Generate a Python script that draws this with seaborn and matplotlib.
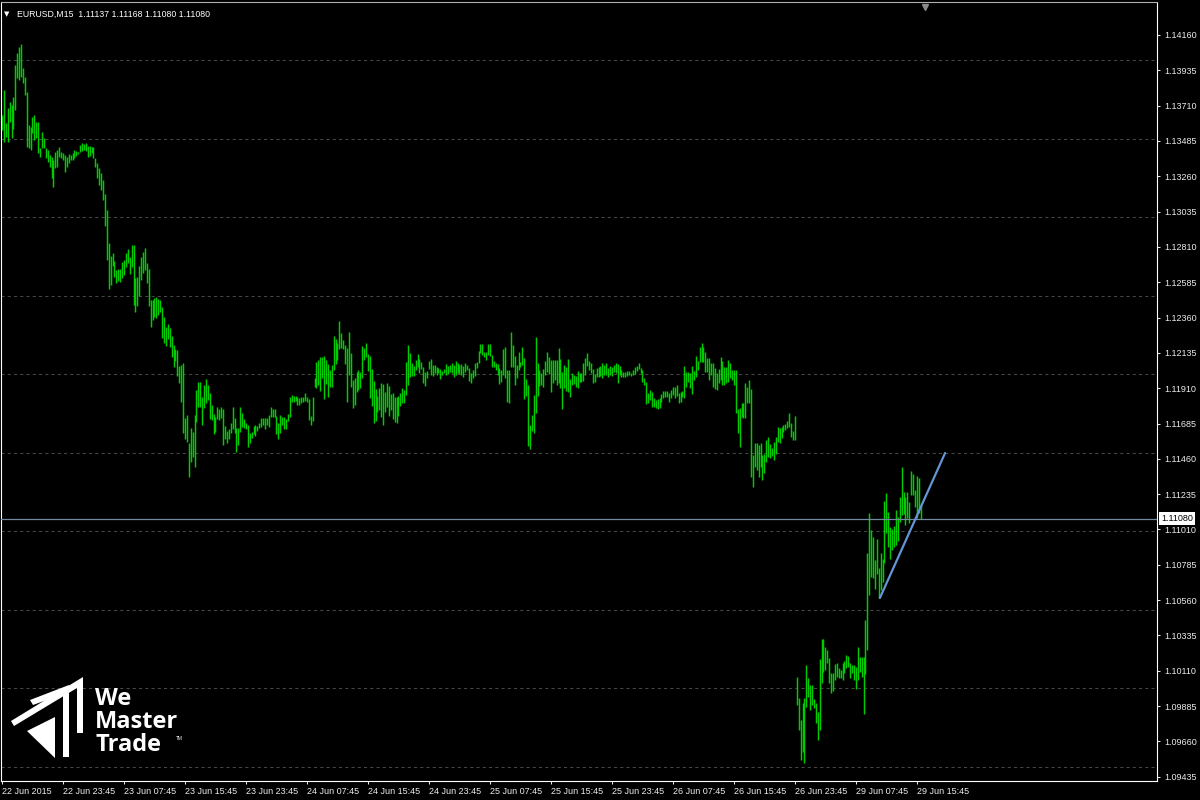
import numpy as np
import pandas as pd
import seaborn as sns
import matplotlib.pyplot as plt
from matplotlib.patches import Polygon
from matplotlib.transforms import Affine2D

# EURUSD M15 bars (high / low)
# 22 Jun 15:45 .. 26 Jun 23:45
week_high = [
    1.13650, 1.13810, 1.13599, 1.13695, 1.13733, 1.13714, 1.13765, 1.13969, 1.14045, 1.14084,
    1.14103, 1.13950, 1.13893, 1.13797, 1.13587, 1.13574, 1.13638, 1.13650, 1.13606, 1.13606,
    1.13440, 1.13542, 1.13504, 1.13440, 1.13428, 1.13396, 1.13383, 1.13364, 1.13415, 1.13428,
    1.13447, 1.13415, 1.13408, 1.13396, 1.13383, 1.13402, 1.13396, 1.13408, 1.13428, 1.13421,
    1.13415, 1.13459, 1.13472, 1.13466, 1.13472, 1.13453, 1.13453, 1.13447, 1.13447, 1.13377,
    1.13345, 1.13313, 1.13281, 1.13236, 1.13147, 1.13045, 1.12835, 1.12752, 1.12771, 1.12720,
    1.12663, 1.12669, 1.12669, 1.12714, 1.12727, 1.12771, 1.12797, 1.12746, 1.12822, 1.12822,
    1.12612, 1.12619, 1.12689, 1.12746, 1.12778, 1.12803, 1.12708, 1.12669, 1.12472, 1.12472,
    1.12485, 1.12491, 1.12478, 1.12472, 1.12427, 1.12364, 1.12300, 1.12319, 1.12294, 1.12243,
    1.12185, 1.12160, 1.12154, 1.12052, 1.12058, 1.12071, 1.11720, 1.11739, 1.11561, 1.11657,
    1.11631, 1.11739, 1.11899, 1.11950, 1.11950, 1.11854, 1.11931, 1.11969, 1.11931, 1.11880,
    1.11803, 1.11746, 1.11727, 1.11790, 1.11778, 1.11790, 1.11778, 1.11669, 1.11638, 1.11650,
    1.11688, 1.11790, 1.11720, 1.11657, 1.11657, 1.11790, 1.11752, 1.11714, 1.11688, 1.11676,
    1.11625, 1.11631, 1.11669, 1.11676, 1.11669, 1.11688, 1.11720, 1.11720, 1.11720, 1.11720,
    1.11739, 1.11790, 1.11778, 1.11778, 1.11733, 1.11688, 1.11739, 1.11727, 1.11727, 1.11714,
    1.11746, 1.11854, 1.11867, 1.11860, 1.11860, 1.11854, 1.11848, 1.11854, 1.11854, 1.11880,
    1.11854, 1.11841, 1.11733, 1.11854, 1.11975, 1.12077, 1.12090, 1.12109, 1.12109, 1.12115,
    1.12090, 1.12064, 1.12026, 1.12058, 1.12243, 1.12224, 1.12198, 1.12338, 1.12262, 1.12217,
    1.12185, 1.12166, 1.12268, 1.12134, 1.11962, 1.11975, 1.12013, 1.12026, 1.12013, 1.12179,
    1.12166, 1.12198, 1.12128, 1.12115, 1.12032, 1.11956, 1.11905, 1.11860, 1.11911, 1.11943,
    1.11937, 1.11886, 1.11943, 1.11924, 1.11873, 1.11880, 1.11854, 1.11854, 1.11860, 1.11880,
    1.11911, 1.11899, 1.12077, 1.12185, 1.12134, 1.12071, 1.12052, 1.12090, 1.12128, 1.12096,
    1.12077, 1.12045, 1.12013, 1.12020, 1.12083, 1.12096, 1.12058, 1.12058, 1.12045, 1.12039,
    1.12032, 1.12020, 1.12032, 1.12064, 1.12052, 1.12058, 1.12071, 1.12058, 1.12083, 1.12071,
    1.12058, 1.12064, 1.12052, 1.12071, 1.12058, 1.12039, 1.12007, 1.12026, 1.12071, 1.12077,
    1.12147, 1.12192, 1.12192, 1.12141, 1.12141, 1.12192, 1.12192, 1.12122, 1.12083, 1.12071,
    1.12064, 1.12039, 1.12026, 1.12160, 1.12173, 1.12026, 1.12026, 1.12268, 1.12185, 1.12115,
    1.12058, 1.12141, 1.12077, 1.12173, 1.12103, 1.11969, 1.11931, 1.11676, 1.11739, 1.11867,
    1.12236, 1.12071, 1.12026, 1.12007, 1.12032, 1.12083, 1.12141, 1.12109, 1.12090, 1.12090,
    1.12090, 1.12090, 1.12166, 1.12096, 1.12013, 1.12058, 1.12045, 1.12096, 1.11969, 1.12007,
    1.11994, 1.11988, 1.12020, 1.12007, 1.12007, 1.12071, 1.12103, 1.12134, 1.12083, 1.12071,
    1.12032, 1.12001, 1.12039, 1.12045, 1.12052, 1.12071, 1.12058, 1.12071, 1.12039, 1.12052,
    1.12045, 1.12058, 1.12071, 1.12064, 1.12052, 1.12026, 1.12013, 1.12013, 1.12020, 1.12020,
    1.12007, 1.12026, 1.12045, 1.12052, 1.12071, 1.12039, 1.12026, 1.11975, 1.11950, 1.11880,
    1.11899, 1.11886, 1.11848, 1.11835, 1.11841, 1.11848, 1.11873, 1.11892, 1.11892, 1.11892,
    1.11880, 1.11899, 1.11918, 1.11918, 1.11931, 1.11880, 1.11886, 1.11892, 1.12052, 1.12013,
    1.12013, 1.12007, 1.12052, 1.12020, 1.12115, 1.12083, 1.12173, 1.12198, 1.12173, 1.12141,
    1.12103, 1.12103, 1.12071, 1.12071, 1.12039, 1.12007, 1.12032, 1.12109, 1.12083, 1.12045,
    1.12045, 1.12090, 1.12071, 1.12026, 1.12026, 1.12026, 1.11778, 1.11784, 1.11816, 1.11816,
    1.11943, 1.11918, 1.11962, 1.11905, 1.11485, 1.11561, 1.11561, 1.11548, 1.11561, 1.11485,
    1.11491, 1.11580, 1.11599, 1.11555, 1.11529, 1.11567, 1.11599, 1.11663, 1.11657, 1.11663,
    1.11676, 1.11682, 1.11701, 1.11752, 1.11688, 1.11638, 1.11733,
]
week_low = [
    1.13555, 1.13478, 1.13510, 1.13478, 1.13606, 1.13504, 1.13561, 1.13682, 1.13886, 1.13873,
    1.13893, 1.13854, 1.13778, 1.13447, 1.13440, 1.13428, 1.13536, 1.13491, 1.13504, 1.13408,
    1.13383, 1.13440, 1.13440, 1.13377, 1.13351, 1.13319, 1.13249, 1.13192, 1.13313, 1.13319,
    1.13383, 1.13377, 1.13364, 1.13287, 1.13319, 1.13345, 1.13364, 1.13364, 1.13377, 1.13389,
    1.13402, 1.13415, 1.13421, 1.13428, 1.13421, 1.13383, 1.13389, 1.13408, 1.13377, 1.13319,
    1.13249, 1.13205, 1.13173, 1.13109, 1.12943, 1.12727, 1.12542, 1.12568, 1.12689, 1.12619,
    1.12580, 1.12593, 1.12587, 1.12612, 1.12631, 1.12682, 1.12708, 1.12638, 1.12682, 1.12440,
    1.12396, 1.12434, 1.12497, 1.12599, 1.12644, 1.12663, 1.12580, 1.12434, 1.12300, 1.12345,
    1.12364, 1.12357, 1.12377, 1.12396, 1.12230, 1.12198, 1.12179, 1.12224, 1.12173, 1.12109,
    1.12045, 1.12083, 1.11988, 1.11943, 1.11822, 1.11625, 1.11587, 1.11567, 1.11345, 1.11440,
    1.11472, 1.11408, 1.11695, 1.11790, 1.11790, 1.11676, 1.11784, 1.11816, 1.11835, 1.11714,
    1.11708, 1.11618, 1.11631, 1.11714, 1.11708, 1.11720, 1.11548, 1.11587, 1.11561, 1.11587,
    1.11625, 1.11650, 1.11625, 1.11504, 1.11548, 1.11631, 1.11663, 1.11657, 1.11650, 1.11536,
    1.11561, 1.11593, 1.11618, 1.11606, 1.11638, 1.11657, 1.11663, 1.11676, 1.11650, 1.11676,
    1.11663, 1.11727, 1.11727, 1.11727, 1.11618, 1.11587, 1.11625, 1.11676, 1.11650, 1.11650,
    1.11701, 1.11727, 1.11822, 1.11822, 1.11829, 1.11803, 1.11803, 1.11816, 1.11822, 1.11829,
    1.11822, 1.11708, 1.11676, 1.11701, 1.11918, 1.11911, 1.11931, 1.11892, 1.11975, 1.11841,
    1.11937, 1.11854, 1.11918, 1.11918, 1.12026, 1.12064, 1.12090, 1.12160, 1.12166, 1.12160,
    1.12064, 1.11822, 1.11994, 1.11918, 1.11784, 1.11803, 1.11886, 1.11899, 1.11911, 1.11975,
    1.12090, 1.12109, 1.12020, 1.11848, 1.11797, 1.11688, 1.11701, 1.11759, 1.11771, 1.11727,
    1.11676, 1.11759, 1.11790, 1.11733, 1.11771, 1.11714, 1.11695, 1.11688, 1.11733, 1.11797,
    1.11816, 1.11816, 1.11867, 1.11931, 1.11982, 1.11988, 1.11988, 1.12026, 1.12045, 1.12007,
    1.12032, 1.11943, 1.11924, 1.11975, 1.12032, 1.11994, 1.11988, 1.12007, 1.11994, 1.12007,
    1.11969, 1.11994, 1.12007, 1.11994, 1.12001, 1.12013, 1.12007, 1.11982, 1.11994, 1.12007,
    1.12001, 1.11994, 1.11982, 1.12013, 1.12026, 1.11956, 1.11943, 1.11975, 1.11988, 1.12039,
    1.12071, 1.12134, 1.12122, 1.12109, 1.12090, 1.12122, 1.12115, 1.12045, 1.12045, 1.12026,
    1.11994, 1.11937, 1.11950, 1.11994, 1.11975, 1.11822, 1.11816, 1.12045, 1.12045, 1.11931,
    1.11975, 1.12026, 1.12045, 1.12058, 1.11841, 1.11860, 1.11542, 1.11523, 1.11638, 1.11625,
    1.11752, 1.11860, 1.11924, 1.11931, 1.11918, 1.11994, 1.12013, 1.12001, 1.11886, 1.11943,
    1.11962, 1.11931, 1.11943, 1.11911, 1.11778, 1.11911, 1.11892, 1.11886, 1.11854, 1.11931,
    1.11937, 1.11918, 1.11911, 1.11950, 1.11950, 1.11956, 1.11994, 1.12052, 1.12026, 1.12007,
    1.11943, 1.11950, 1.11982, 1.11982, 1.11988, 1.11975, 1.11994, 1.11994, 1.11982, 1.11994,
    1.11988, 1.12013, 1.12007, 1.11943, 1.11994, 1.11982, 1.11982, 1.11982, 1.11988, 1.11994,
    1.11988, 1.11994, 1.12001, 1.12020, 1.12032, 1.12007, 1.11950, 1.11931, 1.11810, 1.11816,
    1.11835, 1.11790, 1.11790, 1.11784, 1.11778, 1.11784, 1.11822, 1.11848, 1.11854, 1.11854,
    1.11822, 1.11848, 1.11867, 1.11848, 1.11860, 1.11816, 1.11822, 1.11854, 1.11848, 1.11918,
    1.11950, 1.11911, 1.11873, 1.11962, 1.11982, 1.12026, 1.12077, 1.12077, 1.12077, 1.12013,
    1.12013, 1.11962, 1.11994, 1.11918, 1.11905, 1.11899, 1.11943, 1.11962, 1.11931, 1.11931,
    1.11943, 1.11950, 1.11975, 1.11962, 1.11931, 1.11752, 1.11625, 1.11536, 1.11727, 1.11720,
    1.11720, 1.11816, 1.11816, 1.11345, 1.11281, 1.11408, 1.11389, 1.11345, 1.11408, 1.11325,
    1.11370, 1.11440, 1.11472, 1.11466, 1.11478, 1.11453, 1.11491, 1.11567, 1.11561, 1.11593,
    1.11631, 1.11644, 1.11657, 1.11663, 1.11599, 1.11580, 1.11580,
]
# 29 Jun 00:00 .. 29 Jun 16:15
monday_high = [
    1.10071, 1.09937, 1.09797, 1.09905, 1.09937, 1.10147, 1.10064, 1.10020, 1.10020, 1.09930,
    1.09905, 1.09848, 1.10185, 1.10313, 1.10313, 1.10262, 1.10243, 1.10192, 1.10096, 1.10096,
    1.10153, 1.10160, 1.10128, 1.10115, 1.10160, 1.10172, 1.10211, 1.10204, 1.10160, 1.10147,
    1.10147, 1.10134, 1.10262, 1.10198, 1.10198, 1.10198, 1.10434, 1.10860, 1.11115, 1.11007,
    1.10962, 1.10816, 1.10950, 1.10765, 1.10860, 1.10822, 1.11192, 1.11243, 1.11122, 1.11026,
    1.11013, 1.11032, 1.11134, 1.11090, 1.11217, 1.11408, 1.11249, 1.11217, 1.11249, 1.11185,
    1.11383, 1.11364, 1.11262, 1.11351, 1.11338, 1.11168,
]
monday_low = [
    1.09892, 1.09733, 1.09542, 1.09593, 1.09523, 1.09879, 1.09943, 1.09860, 1.09892, 1.09873,
    1.09778, 1.09669, 1.09733, 1.10032, 1.10102, 1.10115, 1.10160, 1.10032, 1.09969, 1.09981,
    1.10051, 1.10071, 1.10064, 1.10064, 1.10051, 1.10096, 1.10128, 1.10134, 1.10064, 1.10096,
    1.10051, 1.09994, 1.10051, 1.10102, 1.10071, 1.09835, 1.10090, 1.10243, 1.10593, 1.10708,
    1.10701, 1.10631, 1.10727, 1.10574, 1.10625, 1.10676, 1.10797, 1.10988, 1.10899, 1.10822,
    1.10880, 1.10899, 1.10911, 1.10937, 1.11058, 1.11102, 1.11109, 1.11039, 1.11083, 1.11052,
    1.11230, 1.11230, 1.11153, 1.11083, 1.11115, 1.11080,
]

last_price = 1.11080
header = "EURUSD,M15  1.11137 1.11168 1.11080 1.11080"

# trend line drawn on the chart (bar index, price)
trend_bar = [460.6, 494.8]
trend_price = [1.10574, 1.11497]

price_ticks = [1.14160, 1.13935, 1.13710, 1.13485, 1.13260, 1.13035, 1.12810, 1.12585,
               1.12360, 1.12135, 1.11910, 1.11685, 1.11460, 1.11235, 1.11010, 1.10785,
               1.10560, 1.10335, 1.10110, 1.09885, 1.09660, 1.09435]
grid_levels = [1.140, 1.135, 1.130, 1.125, 1.120, 1.115, 1.110, 1.105, 1.100, 1.095]
time_ticks = [0, 32, 64, 96, 128, 160, 192, 224, 256, 288, 320, 352, 384, 416, 448, 480]
time_labels = ["22 Jun 2015", "22 Jun 23:45", "23 Jun 07:45", "23 Jun 15:45",
               "23 Jun 23:45", "24 Jun 07:45", "24 Jun 15:45", "24 Jun 23:45",
               "25 Jun 07:45", "25 Jun 15:45", "25 Jun 23:45", "26 Jun 07:45",
               "26 Jun 15:45", "26 Jun 23:45", "29 Jun 07:45", "29 Jun 15:45"]

bars = pd.DataFrame({
    "high": week_high + monday_high,
    "low": week_low + monday_low,
})
bars["bar"] = np.arange(len(bars))

sns.set_theme(style="dark", rc={"axes.facecolor": "black", "figure.facecolor": "black"})
plt.rcParams["font.family"] = ["Liberation Sans", "DejaVu Sans"]

fig = plt.figure(figsize=(12, 8), dpi=100, facecolor="black")
ax = fig.add_axes([1 / 1200, 19 / 800, 1156 / 1200, 779 / 800])
ax.set_facecolor("black")

for lvl in grid_levels:
    ax.axhline(lvl, color="#474747", lw=0.75, ls=(0, (3, 3)), zorder=1)

ax.vlines(bars["bar"], bars["low"], bars["high"], color="#00cc00", lw=1.05,
          antialiased=True, zorder=2)

ax.axhline(last_price, color="#7489a0", lw=0.9, zorder=3)
sns.lineplot(x=trend_bar, y=trend_price, ax=ax, color="#6495d6", lw=1.6,
             zorder=4, legend=False)

ax.set_xlim(-0.525, 605.98)
ax.set_ylim(1.09408, 1.14370)

ax.set_xticks(time_ticks)
ax.set_xticklabels(time_labels)
plt.setp(ax.get_xticklabels(), ha="left")
ax.yaxis.tick_right()
ax.set_yticks(price_ticks)
ax.set_yticklabels([f"{p:.5f}" for p in price_ticks])
ax.tick_params(axis="x", colors="#ececec", labelsize=6.5, length=2.5, width=0.75,
               direction="out", pad=1.5, bottom=True)
ax.tick_params(axis="y", colors="#ececec", labelsize=6.5, length=2.5, width=0.75,
               direction="out", pad=3, right=True, left=False)
ax.grid(False)
ax.set_xlabel("")
ax.set_ylabel("")
for side in ["left", "right", "bottom"]:
    ax.spines[side].set_color("white")
    ax.spines[side].set_linewidth(0.8)
ax.spines["top"].set_color("#b0b0b0")
ax.spines["top"].set_linewidth(0.8)

# current price tag on the price scale
ax.text(1.0035, last_price, f"{last_price:.5f}", transform=ax.get_yaxis_transform(),
        ha="left", va="center", fontsize=6.5, color="black", clip_on=False,
        bbox=dict(facecolor="white", edgecolor="none", pad=1.4), zorder=6)

# header
fig.text(4 / 1200, 1 - 14 / 800, "\u25bc", fontsize=5, color="white", va="center",
         family="DejaVu Sans")
fig.text(17 / 1200, 1 - 14 / 800, header, fontsize=6.3, color="white", va="center")
# chart shift marker
fig.add_artist(plt.Line2D([925 / 1200], [1 - 7 / 800], marker="v", color="#8a8a8a",
                          markersize=5, transform=fig.transFigure))

# logo (pixel coords from top-left)
px = Affine2D().scale(1 / 1200, -1 / 800).translate(0, 1) + fig.transFigure
logo_parts = [
    [(11, 721), (83, 677), (83, 733), (77, 733), (77, 688), (14, 726)],
    [(30, 700), (69, 685), (69, 757), (63, 757), (63, 694), (33, 705)],
    [(27, 731), (55, 717), (55, 758)],
]
for pts in logo_parts:
    fig.add_artist(Polygon(pts, closed=True, facecolor="white", edgecolor="none",
                           transform=px))
for word, base in [("We", 705), ("Master", 728), ("Trade", 751)]:
    fig.text(95 / 1200, 1 - base / 800, word, fontsize=17, fontweight="bold",
             color="white", family="Open Sans", va="baseline")
fig.text(176 / 1200, 1 - 740 / 800, "TM", fontsize=3.5, color="white",
         family="Open Sans", va="baseline")

fig.savefig("out.png", dpi=100, facecolor="black")
